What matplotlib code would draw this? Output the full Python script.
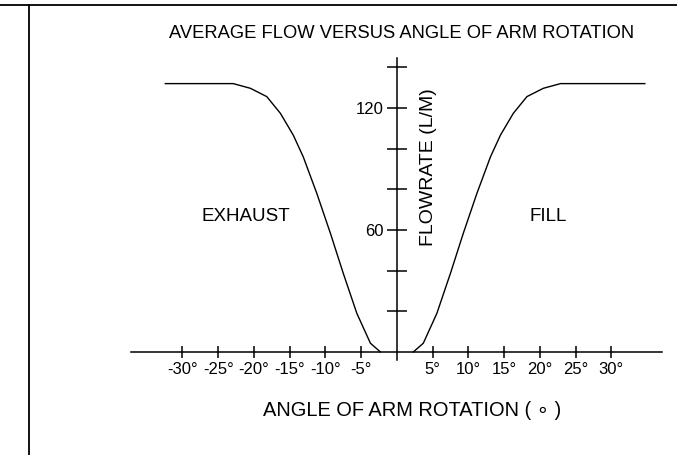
import matplotlib.pyplot as plt
from matplotlib.lines import Line2D

# curve (angle in degrees, flow in L/M)
exhaust_angle = [-32.4, -22.9, -20.5, -18.2, -16.3, -14.5, -13.1, -11.2, -9.3, -7.5, -5.6, -3.7, -2.3]
exhaust_flow = [132, 132, 129.7, 125.6, 117.4, 106.7, 96, 78, 58.4, 38.7, 19, 4.3, 0]
fill_angle = [2.3, 3.7, 5.6, 7.5, 9.3, 11.2, 13.1, 14.5, 16.3, 18.2, 20.5, 22.9, 34.7]
fill_flow = [0, 4.3, 19, 38.7, 58.4, 78, 96, 106.7, 117.4, 125.6, 129.7, 132, 132]

x_ticks = [-30, -25, -20, -15, -10, -5, 5, 10, 15, 20, 25, 30]
x_labels = ['-30°', '-25°', '-20°', '-15°', '-10°', '-5°', '5°', '10°', '15°', '20°', '25°', '30°']
y_ticks = [20, 40, 60, 80, 100, 120, 140]
y_labels = ['', '', '60', '', '', '120', '']

plt.rcParams['font.family'] = ['Liberation Sans', 'DejaVu Sans']

fig = plt.figure(figsize=(6.77, 4.55), dpi=100)
W, H = 677, 455
ax = fig.add_axes([131 / W, (H - 360.1) / H, (662 - 131) / W, (360.1 - 58.2) / H])
ax.set_xlim(-37.2, 37.1)
ax.set_ylim(-4, 144.5)

ax.plot(exhaust_angle, exhaust_flow, color='black', lw=1.0)
ax.plot(fill_angle, fill_flow, color='black', lw=1.0)

for s in ['top', 'right']:
    ax.spines[s].set_visible(False)
ax.spines['left'].set_position(('data', 0))
ax.spines['bottom'].set_position(('data', 0))
ax.spines['left'].set_linewidth(1.1)
ax.spines['bottom'].set_linewidth(1.1)

ax.set_xticks(x_ticks)
ax.set_xticklabels(x_labels)
ax.set_yticks(y_ticks)
ax.set_yticklabels(y_labels)
ax.tick_params(axis='x', direction='inout', length=9, width=1.1, pad=2.5, labelsize=12, colors='black')
ax.tick_params(axis='y', direction='inout', length=13.7, width=1.1, pad=3, labelsize=12, colors='black')

ax.text(-21.1, 66.4, 'EXHAUST', ha='center', va='center', fontsize=13.5)
ax.text(21.2, 66.4, 'FILL', ha='center', va='center', fontsize=13.5)
ax.text(4.4, 91, 'FLOWRATE (L/M)', ha='center', va='center', rotation=90, fontsize=14)

fig.text(402 / W, 1 - 34 / H, 'AVERAGE FLOW VERSUS ANGLE OF ARM ROTATION', ha='center', va='center',
         fontsize=13.2)
fig.text(412 / W, 1 - 410 / H, 'ANGLE OF ARM ROTATION ( ∘ )', ha='center', va='center', fontsize=14.4)

# page frame lines
fig.add_artist(Line2D([0, 1], [1 - 5 / H, 1 - 5 / H], color='black', lw=1.3))
fig.add_artist(Line2D([28.5 / W, 28.5 / W], [0, 1 - 5 / H], color='black', lw=1.3))

fig.savefig('out.png', dpi=100)
